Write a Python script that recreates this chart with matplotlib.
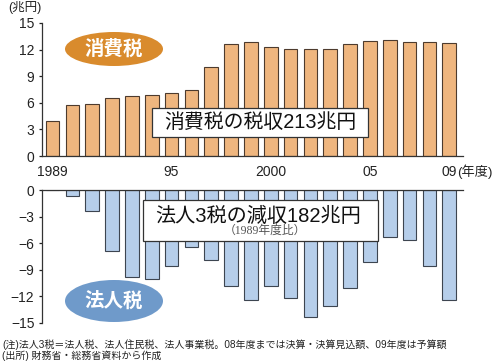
import matplotlib
matplotlib.use("Agg")
import matplotlib.pyplot as plt
from matplotlib.patches import Ellipse, Rectangle

plt.rcParams['font.family'] = ['Liberation Sans', 'Noto Sans CJK JP']

years = list(range(1989, 2010))
consumption_tax = [3.9, 5.7, 5.9, 6.5, 6.8, 6.9, 7.1, 7.5, 10.0, 12.6, 12.9,
                   12.3, 12.1, 12.1, 12.1, 12.6, 13.0, 13.1, 12.9, 12.9, 12.7]
corp_tax_loss = [0.0, -0.7, -2.4, -6.9, -9.8, -10.1, -8.6, -6.4, -7.9, -10.9, -12.4,
                 -10.9, -12.2, -14.4, -13.1, -11.1, -8.1, -5.3, -5.7, -8.6, -12.4]
top_yticks = [0, 3, 6, 9, 12, 15]
bot_yticks = [0, -3, -6, -9, -12, -15]
year_labels = {1989: "1989", 1995: "95", 2000: "2000", 2005: "05", 2009: "09"}

W, H = 500, 364
fig = plt.figure(figsize=(W / 100, H / 100), dpi=100)

def fx(px):
    return px / W

def fy(py):
    return 1 - py / H

x = list(range(len(years)))
xlim = (-0.53, 20.69)
ax_left = fx(42)
ax_w = fx(463) - fx(42)

# top axes
ax1 = fig.add_axes([ax_left, fy(156), ax_w, fy(23) - fy(156)])
ax1.bar(x, consumption_tax, width=0.69, color='#EFB67F', edgecolor='#4d3b2e', linewidth=0.8, zorder=2)
ax1.set_xlim(*xlim)
ax1.set_ylim(0, 15)
ax1.set_yticks(top_yticks)
ax1.set_xticks([])
for s in ['top', 'right']:
    ax1.spines[s].set_visible(False)
for s in ['left', 'bottom']:
    ax1.spines[s].set_color('#333333')
    ax1.spines[s].set_linewidth(0.9)
ax1.tick_params(axis='y', length=2.5, width=0.9, pad=3, labelsize=10, colors='#222222')

# bottom axes
ax2 = fig.add_axes([ax_left, fy(322.7), ax_w, fy(190) - fy(322.7)])
ax2.bar(x, corp_tax_loss, width=0.69, color='#B6CEEA', edgecolor='#3d4550', linewidth=0.8, zorder=2)
ax2.set_xlim(*xlim)
ax2.set_ylim(-15, 0)
ax2.set_yticks(bot_yticks)
ax2.set_xticks([])
for s in ['bottom', 'right']:
    ax2.spines[s].set_visible(False)
for s in ['left', 'top']:
    ax2.spines[s].set_color('#333333')
    ax2.spines[s].set_linewidth(0.9)
ax2.tick_params(axis='y', length=2.5, width=0.9, pad=3, labelsize=10, colors='#222222')

# year labels between the panels
for yr, lab in year_labels.items():
    i = years.index(yr)
    xd = ax1.transData.transform((i, 0))[0]
    xf = fig.transFigure.inverted().transform((xd, 0))[0]
    fig.text(xf, fy(172), lab, ha='center', va='center', fontsize=10, color='#222222')
fig.text(fx(457), fy(172), "(年度)", ha='left', va='center', fontsize=9.5, color='#222222')
fig.text(fx(8), fy(8), "(兆円)", ha='left', va='center', fontsize=9, color='#222222')

# ellipses
e1 = Ellipse((fx(114), fy(49)), fx(98), 34 / H, transform=fig.transFigure,
             facecolor='#D98B2D', edgecolor='none', zorder=5)
fig.patches.append(e1)
fig.text(fx(114), fy(49), "消費税", ha='center', va='center', fontsize=14,
         color='white', fontweight='bold', zorder=6)

e2 = Ellipse((fx(114), fy(301)), fx(98), 42 / H, transform=fig.transFigure,
             facecolor='#6F9ACA', edgecolor='none', zorder=5)
fig.patches.append(e2)
fig.text(fx(114), fy(301), "法人税", ha='center', va='center', fontsize=14,
         color='white', fontweight='bold', zorder=6)

# boxes
r1 = Rectangle((fx(152), fy(137)), fx(368) - fx(152), fy(108) - fy(137), transform=fig.transFigure,
               facecolor='white', edgecolor='#333333', linewidth=0.9, zorder=5)
fig.patches.append(r1)
fig.text(fx(260), fy(123), "消費税の税収213兆円", ha='center', va='center', fontsize=14.3,
         color='#111111', zorder=6)

r2 = Rectangle((fx(143), fy(241)), fx(378) - fx(143), fy(200) - fy(241), transform=fig.transFigure,
               facecolor='white', edgecolor='#333333', linewidth=0.9, zorder=5)
fig.patches.append(r2)
fig.text(fx(258), fy(216), "法人3税の減収182兆円", ha='center', va='center', fontsize=14.5,
         color='#111111', zorder=6)
fig.text(fx(265), fy(231), "（1989年度比）", ha='center', va='center', fontsize=8.5,
         color='#555555', family=['Liberation Serif', 'Noto Sans CJK JP'], zorder=6)

# footnotes
fig.text(fx(2), fy(345), "(注)法人3税＝法人税、法人住民税、法人事業税。08年度までは決算・決算見込額、09年度は予算額",
         ha='left', va='center', fontsize=7.2, color='#222222')
fig.text(fx(2), fy(356), "(出所) 財務省・総務省資料から作成",
         ha='left', va='center', fontsize=7.2, color='#222222')

fig.savefig("out.png", dpi=100)
